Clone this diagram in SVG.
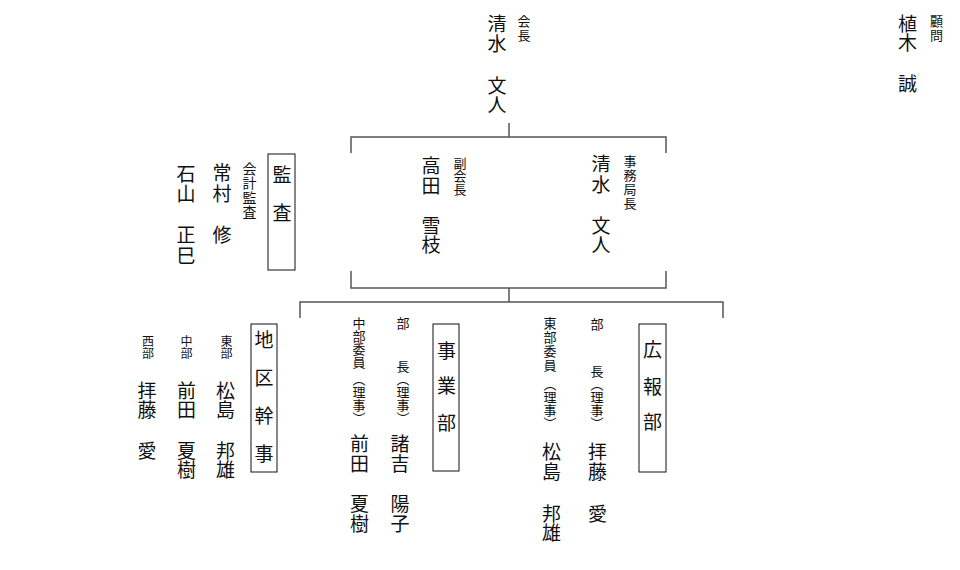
<svg xmlns="http://www.w3.org/2000/svg" width="960" height="570" viewBox="0 0 960 570">
<style>
text{font-family:"Noto Sans CJK JP","Noto Sans CJK SC",sans-serif;fill:#111;writing-mode:vertical-rl;text-anchor:start}
.b{font-size:19px}
.s{font-size:13px}
.m{font-size:14px}
.xs{font-size:12px}
.box{fill:none;stroke:#111;stroke-width:1}
.ln{fill:none;stroke:#555;stroke-width:1.5}
</style>
<rect width="960" height="570" fill="#fff"/>
<g id="connectors">
<path class="ln" d="M509 123V137"/>
<path class="ln" d="M351 153V137H666V153"/>
<path class="ln" d="M351 271V288H666V271"/>
<path class="ln" d="M509 288V302"/>
<path class="ln" d="M300 318V302H723V318"/>
</g>
<g id="president">
<text class="b" x="497"><tspan y="14.5">清</tspan><tspan y="34">水</tspan><tspan y="76.5">文</tspan><tspan y="95.5">人</tspan></text>
<text class="s" x="524"><tspan y="15">会</tspan><tspan y="28.5">長</tspan></text>
</g>
<g id="advisor">
<text class="b" x="907.5"><tspan y="14.5">植</tspan><tspan y="33.5">木</tspan><tspan y="74">誠</tspan></text>
<text class="s" x="936.5"><tspan y="15">顧</tspan><tspan y="28.5">問</tspan></text>
</g>
<g id="vice-president">
<text class="b" x="431"><tspan y="156.5">高</tspan><tspan y="176.5">田</tspan><tspan y="216.5">雪</tspan><tspan y="235.5">枝</tspan></text>
<text class="s" x="460"><tspan y="156.5">副</tspan><tspan y="169.5">会</tspan><tspan y="182.5">長</tspan></text>
</g>
<g id="secretary-general">
<text class="b" x="601"><tspan y="154.5">清</tspan><tspan y="175.5">水</tspan><tspan y="216.5">文</tspan><tspan y="235.5">人</tspan></text>
<text class="s" x="630"><tspan y="155">事</tspan><tspan y="169">務</tspan><tspan y="183">局</tspan><tspan y="197">長</tspan></text>
</g>
<g id="audit">
<rect class="box" x="268" y="154" width="27" height="116"/>
<text class="b" x="282"><tspan y="165.5">監</tspan><tspan y="203">査</tspan></text>
</g>
<g id="auditor-tsunemura">
<text class="b" x="222"><tspan y="163.5">常</tspan><tspan y="184">村</tspan><tspan y="225.5">修</tspan></text>
<text class="m" x="249.5"><tspan y="161.5">会</tspan><tspan y="176">計</tspan><tspan y="190.5">監</tspan><tspan y="205">査</tspan></text>
</g>
<g id="auditor-ishiyama">
<text class="b" x="186"><tspan y="164">石</tspan><tspan y="184">山</tspan><tspan y="225.5">正</tspan><tspan y="246.5">巳</tspan></text>
</g>
<g id="regional">
<rect class="box" x="251" y="324" width="26" height="148"/>
<text class="b" x="264"><tspan y="330.5">地</tspan><tspan y="368">区</tspan><tspan y="406.5">幹</tspan><tspan y="444.5">事</tspan></text>
</g>
<g id="regional-east">
<text class="xs" x="226.5"><tspan y="335">東</tspan><tspan y="347">部</tspan></text>
<text class="b" x="225.5"><tspan y="381.5">松</tspan><tspan y="400.5">島</tspan><tspan y="441.5">邦</tspan><tspan y="460.5">雄</tspan></text>
</g>
<g id="regional-central">
<text class="xs" x="186.5"><tspan y="335">中</tspan><tspan y="347">部</tspan></text>
<text class="b" x="186.5"><tspan y="381.5">前</tspan><tspan y="400.5">田</tspan><tspan y="441.5">夏</tspan><tspan y="460.5">樹</tspan></text>
</g>
<g id="regional-west">
<text class="xs" x="148"><tspan y="335">西</tspan><tspan y="347">部</tspan></text>
<text class="b" x="147"><tspan y="381.5">拝</tspan><tspan y="400.5">藤</tspan><tspan y="441.5">愛</tspan></text>
</g>
<g id="business">
<rect class="box" x="433" y="324" width="26" height="147"/>
<text class="b" x="446.5"><tspan y="341.5">事</tspan><tspan y="376.5">業</tspan><tspan y="413.5">部</tspan></text>
</g>
<g id="business-head">
<text class="s" x="403"><tspan y="316.5">部</tspan><tspan y="360">長</tspan><tspan y="373">（理事）</tspan></text>
<text class="b" x="400"><tspan y="434.5">諸</tspan><tspan y="454">吉</tspan><tspan y="494.5">陽</tspan><tspan y="514">子</tspan></text>
</g>
<g id="business-member">
<text class="s" x="359"><tspan y="316.5">中</tspan><tspan y="329.5">部</tspan><tspan y="342.5">委</tspan><tspan y="355.5">員</tspan><tspan y="373">（理事）</tspan></text>
<text class="b" x="359.5"><tspan y="434.5">前</tspan><tspan y="454">田</tspan><tspan y="494.5">夏</tspan><tspan y="514">樹</tspan></text>
</g>
<g id="pr">
<rect class="box" x="639" y="324" width="27" height="148"/>
<text class="b" x="652.5"><tspan y="340">広</tspan><tspan y="377.5">報</tspan><tspan y="412.5">部</tspan></text>
</g>
<g id="pr-head">
<text class="s" x="597"><tspan y="317.5">部</tspan><tspan y="365">長</tspan><tspan y="378">（理事）</tspan></text>
<text class="b" x="597.5"><tspan y="442.5">拝</tspan><tspan y="462.5">藤</tspan><tspan y="504.5">愛</tspan></text>
</g>
<g id="pr-member">
<text class="s" x="550"><tspan y="317">東</tspan><tspan y="331">部</tspan><tspan y="345">委</tspan><tspan y="359">員</tspan><tspan y="378">（理事）</tspan></text>
<text class="b" x="551.5"><tspan y="442.5">松</tspan><tspan y="462.5">島</tspan><tspan y="504.5">邦</tspan><tspan y="523.5">雄</tspan></text>
</g>
</svg>
